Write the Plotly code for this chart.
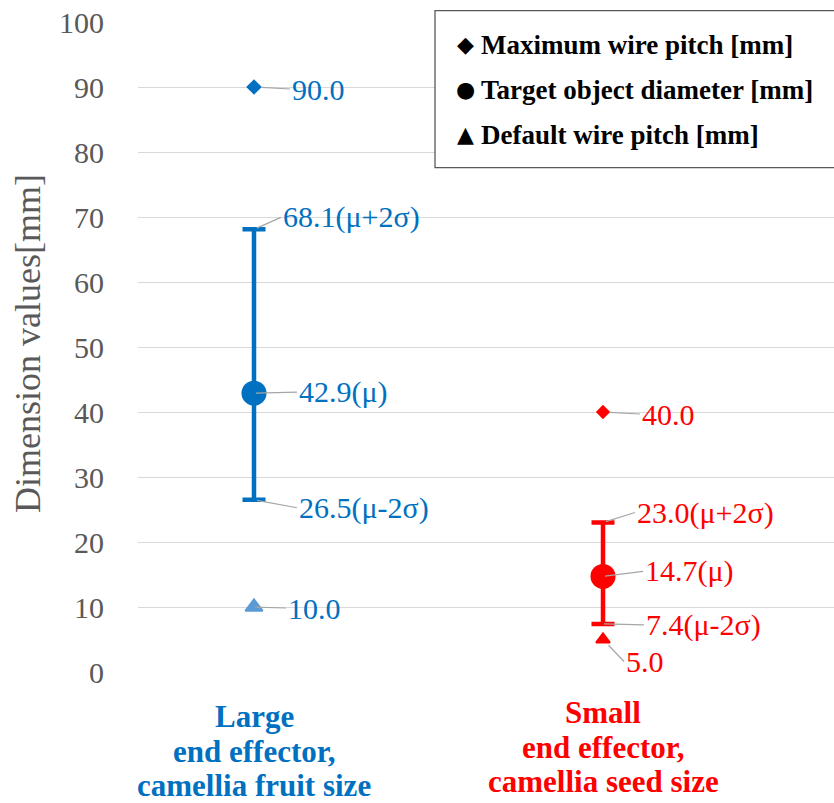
import plotly.graph_objects as go

# ---------------- data ----------------
category_lines = [
    ["Large", "end effector,", "camellia fruit size"],
    ["Small", "end effector,", "camellia seed size"],
]
x_pos = [1, 2]
max_wire_pitch = [90.0, 40.0]
target_mean = [42.9, 14.7]
target_upper = [68.1, 23.0]   # mu + 2 sigma
target_lower = [26.5, 7.4]    # mu - 2 sigma
default_wire_pitch = [10.0, 5.0]
y_ticks = [0, 10, 20, 30, 40, 50, 60, 70, 80, 90, 100]
legend_symbols = ["◆", "●", "▲"]
legend_labels = ["Maximum wire pitch [mm]", "Target object diameter [mm]", "Default wire pitch [mm]"]
y_title = "Dimension values[mm]"

# ---------------- style ----------------
W, H = 834, 803
ML, MR, MT, MB = 138, 0, 22, 131
PW, PH = W - ML - MR, H - MT - MB
SERIF = "Liberation Serif"
main_colors = ["#0070C0", "#FF0000"]
tri_colors = ["#5B9BD5", "#FF0000"]
diamond_sizes = [12, 11]
circle_sizes = [25, 25]
tri_sizes = [15, 12]
cap_half = [11.5, 11.5]
leader_color = "#A6A6A6"
grid_color = "#D9D9D9"
axis_text = "#595959"
# label offsets (ax, ay, standoff) in px for: max, upper, mean, lower, default
label_offsets = [
    [(36, 2, 8), (27, -12, 3), (43, -1, 2), (43, 8, 3), (32, 1, 1)],
    [(37, 2, 7), (32, -10, 3), (40, -5, 2), (41, 1, 1), (21, 22, 8)],
]
cat_baselines = [[726, 761, 795], [722, 757, 791]]
cat_font = 31

fig = go.Figure()

for i in range(len(x_pos)):
    c = main_colors[i]
    fig.add_trace(go.Scatter(
        x=[x_pos[i]], y=[default_wire_pitch[i]], mode="markers",
        marker=dict(symbol="triangle-up", size=tri_sizes[i], color=tri_colors[i],
                    line=dict(color=tri_colors[i], width=2)),
        showlegend=False))
    fig.add_trace(go.Scatter(
        x=[x_pos[i]], y=[max_wire_pitch[i]], mode="markers",
        marker=dict(symbol="diamond", size=diamond_sizes[i], color=c),
        showlegend=False))
    fig.add_trace(go.Scatter(
        x=[x_pos[i]], y=[target_mean[i]], mode="markers",
        marker=dict(symbol="circle", size=circle_sizes[i], color=c),
        error_y=dict(type="data", symmetric=False,
                     array=[target_upper[i] - target_mean[i]],
                     arrayminus=[target_mean[i] - target_lower[i]],
                     color=c, thickness=4.5, width=cap_half[i]),
        showlegend=False))

# data labels with leader lines
for i in range(len(x_pos)):
    c = main_colors[i]
    vals = [max_wire_pitch[i], target_upper[i], target_mean[i], target_lower[i], default_wire_pitch[i]]
    suffix = ["", "(μ+2σ)", "(μ)", "(μ-2σ)", ""]
    for v, s, (ax, ay, so) in zip(vals, suffix, label_offsets[i]):
        fig.add_annotation(
            x=x_pos[i], y=v, xref="x", yref="y", text=f"{v:.1f}{s}",
            showarrow=True, arrowhead=0, arrowwidth=1.2, arrowcolor=leader_color,
            ax=ax, ay=ay, standoff=so,
            xanchor="left", yanchor="middle",
            font=dict(family=SERIF, size=30, color=c))

# category labels (one annotation per line)
for i in range(len(x_pos)):
    for line, base in zip(category_lines[i], cat_baselines[i]):
        top = base - 0.891 * cat_font - 1
        fig.add_annotation(
            x=x_pos[i], y=0, xref="x", yref="paper", text=f"<b>{line}</b>", showarrow=False,
            xanchor="center", yanchor="top", yshift=-(top - (MT + PH)),
            font=dict(family=SERIF, size=cat_font, color=main_colors[i]))

# y-axis title
fig.add_annotation(
    x=0, y=(MT + PH - 344) / PH, xref="paper", yref="paper", text=y_title,
    showarrow=False, textangle=-90, xanchor="center", yanchor="middle", xshift=28 - ML,
    font=dict(family=SERIF, size=36, color=axis_text))

# legend box
box_l, box_t, box_b = 435, 10.7, 167.7
fig.add_shape(type="rect", xref="paper", yref="paper",
              x0=(box_l - ML) / PW, x1=1.1,
              y0=(MT + PH - box_b) / PH, y1=(MT + PH - box_t) / PH,
              line=dict(color="#595959", width=1.3), fillcolor="white", layer="above")
leg_baselines = [53, 98, 143]
for sym, lab, base in zip(legend_symbols, legend_labels, leg_baselines):
    top = base - 0.891 * 27 - 1
    fig.add_annotation(
        x=(479 - ML) / PW, y=1, xref="paper", yref="paper", text=f"<b>{lab}</b>", showarrow=False,
        xanchor="left", yanchor="top", yshift=-(top - MT),
        font=dict(family=SERIF, size=27, color="black"))
    fig.add_annotation(
        x=(465 - ML) / PW, y=1, xref="paper", yref="paper", text=sym, showarrow=False,
        xanchor="center", yanchor="middle", yshift=-((base - 9) - MT),
        font=dict(family="DejaVu Sans", size=22, color="black"))

fig.update_xaxes(range=[1 - (254 - ML) / 349, 2 + (W - 603) / 349], showgrid=False,
                 zeroline=False, showticklabels=False)
fig.update_yaxes(range=[0, 100], tickvals=y_ticks, showgrid=True, gridcolor=grid_color,
                 gridwidth=1.3, zeroline=False, ticks="", ticklabelstandoff=33,
                 tickfont=dict(family=SERIF, size=30, color=axis_text))

fig.update_layout(
    width=W, height=H, margin=dict(l=ML, r=MR, t=MT, b=MB),
    font=dict(family=SERIF),
    paper_bgcolor="white", plot_bgcolor="white", showlegend=False)

fig.write_html("out.html")
